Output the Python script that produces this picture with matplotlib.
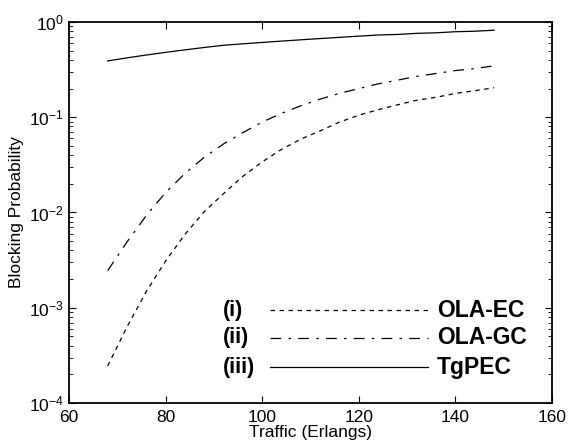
import matplotlib
matplotlib.use('Agg')
import matplotlib.pyplot as plt

plt.rcParams['font.family'] = ['Liberation Sans', 'DejaVu Sans']
plt.rcParams['mathtext.default'] = 'regular'

# Traffic load (Erlangs)
traffic = [68, 72, 76, 80, 84, 88, 92, 96, 100, 104, 108, 112, 116, 120,
           124, 128, 132, 136, 140, 144, 148]

# Blocking probability
ola_ec = [2.45e-4, 6.3e-4, 1.48e-3, 3.1e-3, 5.9e-3, 0.0102, 0.0158, 0.024,
          0.034, 0.046, 0.059, 0.072, 0.089, 0.105, 0.12, 0.135, 0.151,
          0.162, 0.178, 0.19, 0.204]
ola_gc = [2.45e-3, 4.9e-3, 9.3e-3, 0.0162, 0.0257, 0.038, 0.0525, 0.069,
          0.089, 0.11, 0.132, 0.155, 0.178, 0.2, 0.224, 0.245, 0.269, 0.288,
          0.309, 0.324, 0.347]
tgpec = [0.39, 0.42, 0.45, 0.48, 0.51, 0.54, 0.57, 0.59, 0.61, 0.63, 0.65,
         0.67, 0.69, 0.71, 0.73, 0.74, 0.76, 0.77, 0.79, 0.80, 0.82]

names = ['(i)', '(ii)', '(iii)']
labels = ['OLA-EC', 'OLA-GC', 'TgPEC']
styles = [(0, (3.6, 3.6)), (0, (8.6, 5.8, 2, 5.8)), '-']

fig = plt.figure(figsize=(5.68, 4.46), dpi=100)
ax = fig.add_axes([0.1215, 0.0964, 0.8505, 0.8543])

series = [ola_ec, ola_gc, tgpec]
for vals, ls in zip(series, styles):
    ax.plot(traffic, vals, color='black', linestyle=ls, linewidth=0.9)

ax.set_yscale('log')
ax.set_xlim(60, 160)
ax.set_ylim(1e-4, 1)
ax.set_xticks([60, 80, 100, 120, 140, 160])
ax.tick_params(which='both', direction='in', top=True, right=True,
               labelsize=12.5)
ax.tick_params(axis='x', pad=5)
ax.tick_params(which='major', length=5)
ax.tick_params(which='minor', length=3)
for s in ax.spines.values():
    s.set_linewidth(1.3)

ax.set_xlabel('Traffic (Erlangs)', fontsize=12.5, labelpad=0)
ax.set_ylabel('Blocking Probability', fontsize=12.5, labelpad=4)

# hand-made legend in the lower right
rows = [0.244, 0.171, 0.094]
for name, lab, ls, y in zip(names, labels, styles, rows):
    ax.text(0.319, y, name, transform=ax.transAxes, fontsize=15.5,
            fontweight='bold', va='center', ha='left')
    ax.plot([0.416, 0.743], [y, y], transform=ax.transAxes, color='black',
            linestyle=ls, linewidth=0.9)
    ax.text(0.762, y, lab, transform=ax.transAxes, fontsize=16.5,
            fontweight='bold', va='center', ha='left')

plt.savefig('out.png', dpi=100)
